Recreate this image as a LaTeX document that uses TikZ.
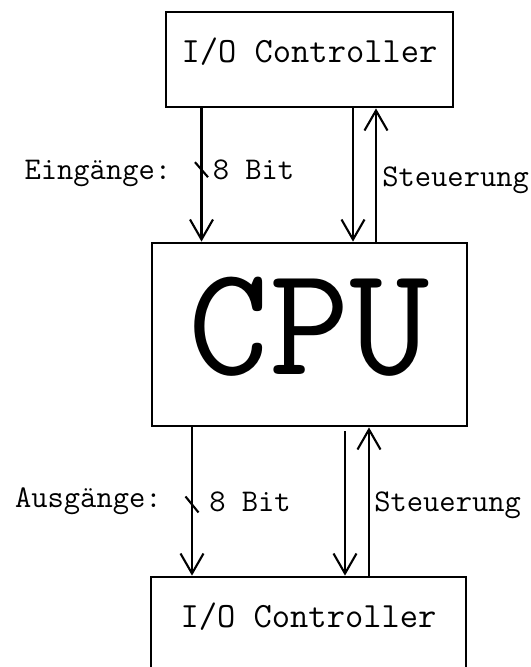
\documentclass[tikz,border=0pt]{standalone}
\usepackage{fontspec}
\usetikzlibrary{arrows.meta,calc,positioning}

\begin{document}
\begin{tikzpicture}[x=0.02cm,y=-0.02cm,>={Straight Barb[length=0.4cm,width=0.46cm]}]
    \tikzstyle{iobox}=[draw,line width=1.6pt,minimum width=5.74cm,minimum height=1.9cm,text height=0.43cm,text depth=0.3cm,font=\ttfamily\fontsize{20.2}{23}\selectfont]
    \tikzstyle{cpubox}=[draw,line width=1.6pt,minimum width=6.3cm,minimum height=3.66cm,text height=1.9cm,text depth=0.3cm,font=\ttfamily\fontsize{89}{99}\selectfont]
    \tikzstyle{wire}=[->,line width=1.2pt]
    \tikzstyle{lbl}=[inner sep=0pt,text height=0.44cm,text depth=0.05cm,font=\ttfamily\fontsize{18}{21}\selectfont]
    \useasboundingbox (0,0) rectangle (531,667);
    \node[iobox] (ioin) at (309.5,59.5) {I/O Controller};
    \node[cpubox] (cpu) at (309.5,334.5) {CPU};
    \node[iobox,minimum width=6.3cm] (ioout) at (308.5,624.5) {I/O Controller};
    % Eingaenge
    \draw[wire] ($(ioin.south)+(-108,0)$) -- coordinate[pos=0.46] (tin) ($(cpu.north)+(-108,0)$);
    \draw[line width=1.2pt] (tin) +(-6.5,-7.5) -- +(6.5,7.5);
    \node[lbl,left=0.6cm of tin] (ein) {Eingänge:};
    \node[lbl,right=0.22cm of tin] (bin) {8 Bit};
    \draw[wire] ($(ioin.south)+(43.5,0)$) -- ($(cpu.north)+(43.5,0)$);
    \draw[wire] ($(cpu.north)+(66.5,0)$) -- coordinate[pos=0.49] (sin) ($(ioin.south)+(66.5,0)$);
    \node[lbl,right=0.12cm of sin] (stin) {Steuerung};
    % Ausgaenge
    \draw[wire] ($(cpu.south)+(-117.5,0)$) -- coordinate[pos=0.52] (tout) ($(ioout.north)+(-116.5,0)$);
    \draw[line width=1.2pt] (tout) +(-6.5,-8) -- +(6.5,8);
    \node[lbl,left=0.6cm of tout,yshift=0.14cm] (aus) {Ausgänge:};
    \node[lbl,right=0.34cm of tout,yshift=0.06cm] (bout) {8 Bit};
    \draw[wire] ($(cpu.south)+(35.5,4)$) -- ($(ioout.north)+(36.5,0)$);
    \draw[wire] ($(ioout.north)+(60.5,0)$) -- coordinate[pos=0.5] (sout) ($(cpu.south)+(59.5,0)$);
    \node[lbl,right=0.1cm of sout] (stout) {Steuerung};
  \end{tikzpicture}
\end{document}
